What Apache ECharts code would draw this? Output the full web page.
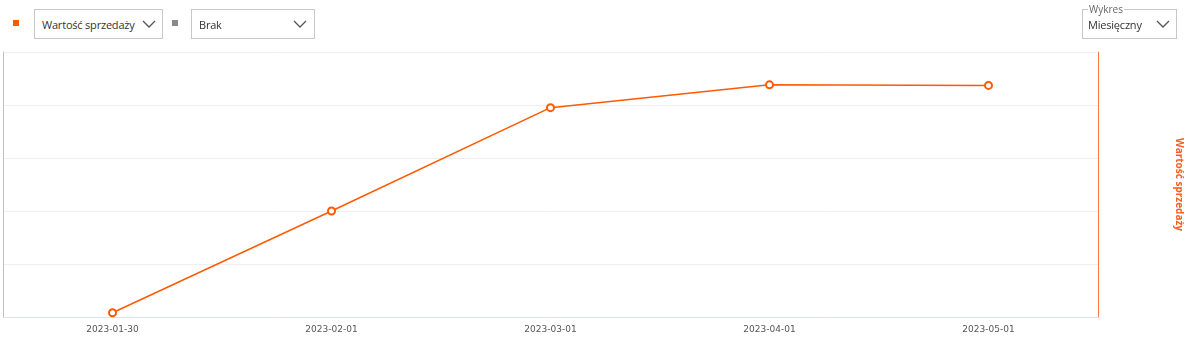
<!DOCTYPE html>
<html>
<head>
<meta charset="utf-8">
<script src="https://cdn.jsdelivr.net/npm/echarts@6/dist/echarts.min.js"></script>
<style>
  html, body { margin:0; padding:0; background:#fff; font-family:"Open Sans", sans-serif; }
  #wrap { position:relative; width:1192px; height:340px; overflow:hidden; }
  #chart { position:absolute; left:0; top:0; width:1192px; height:340px; }
  .sq { position:absolute; width:6px; height:6px; }
  .sel { position:absolute; box-sizing:border-box; border:1px solid #c8c8c8; background:#fff; height:30px; font-size:11px; letter-spacing:-0.2px; color:#333; }
  .sel span { position:absolute; left:7px; top:7px; }
  .sel svg { position:absolute; top:9px; }
  .fs { position:absolute; box-sizing:border-box; border:1px solid #c8c8c8; background:#fff; }
  .lg { position:absolute; left:5px; top:-8px; background:#fff; font-size:10px; color:#666; padding:0 1px; }
</style>
</head>
<body>
<div id="wrap">
  <div id="chart"></div>
  <div class="sq" style="left:13px;top:20px;background:#ff5a00;"></div>
  <div class="sel" style="left:34px;top:9px;width:129px;">
    <span>Wartość sprzedaży</span>
    <svg style="left:107px" width="14" height="10" viewBox="0 0 14 10"><polyline points="1,2 7,8 13,2" fill="none" stroke="#555" stroke-width="1.3"/></svg>
  </div>
  <div class="sq" style="left:172px;top:20px;background:#8a8a8a;"></div>
  <div class="sel" style="left:191px;top:9px;width:124px;">
    <span>Brak</span>
    <svg style="left:101px" width="14" height="10" viewBox="0 0 14 10"><polyline points="1,2 7,8 13,2" fill="none" stroke="#555" stroke-width="1.3"/></svg>
  </div>
  <div class="fs" style="left:1082px;top:9px;width:95px;height:30px;">
    <div class="lg">Wykres</div>
    <span style="position:absolute;left:5px;top:7px;font-size:11px;letter-spacing:-0.2px;color:#333;">Miesięczny</span>
    <svg style="position:absolute;left:73px;top:9px" width="14" height="10" viewBox="0 0 14 10"><polyline points="1,2 7,8 13,2" fill="none" stroke="#555" stroke-width="1.3"/></svg>
  </div>
</div>
<script>
const categories = ['2023-01-30', '2023-02-01', '2023-03-01', '2023-04-01', '2023-05-01'];
const salesValues = [8, 200, 395, 438, 437];
const axisName = 'Wartość sprzedaży';

const chart = echarts.init(document.getElementById('chart'), null, { renderer: 'canvas' });
chart.setOption({
  animation: false,
  grid: { left: 3, right: 94, top: 52, bottom: 23, containLabel: false },
  xAxis: {
    type: 'category',
    data: categories,
    boundaryGap: true,
    axisLine: { show: true, lineStyle: { color: '#dce1e8', width: 1 } },
    axisTick: { show: false },
    axisLabel: { color: '#555', fontSize: 9, fontFamily: 'DejaVu Sans', margin: 8 }
  },
  yAxis: [
    {
      type: 'value', position: 'right', min: 0, max: 500, interval: 100,
      name: axisName, nameLocation: 'middle', nameRotate: -90, nameGap: 76,
      nameTextStyle: { color: '#ff5a1f', fontWeight: 'bold', fontSize: 10, fontFamily: 'Open Sans' },
      axisLine: { show: true, lineStyle: { color: '#ff7a3d', width: 1 } },
      axisTick: { show: false },
      axisLabel: { show: false },
      splitLine: { show: true, lineStyle: { color: '#efefef', width: 1 } }
    },
    {
      type: 'value', position: 'left', min: 0, max: 500, interval: 100,
      axisLine: { show: true, lineStyle: { color: '#c0c0c0', width: 1 } },
      axisTick: { show: false },
      axisLabel: { show: false },
      splitLine: { show: false }
    }
  ],
  series: [{
    type: 'line',
    yAxisIndex: 0,
    data: salesValues,
    symbol: 'emptyCircle',
    symbolSize: 7,
    lineStyle: { color: '#ff5a00', width: 1.5 },
    itemStyle: { color: '#ff5a00', borderWidth: 2 }
  }]
});
</script>
</body>
</html>
